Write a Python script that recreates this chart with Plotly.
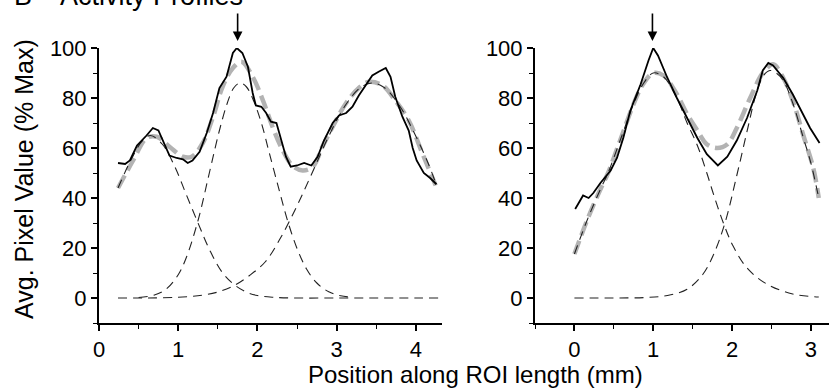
import plotly.graph_objects as go

# ---------------- Left panel ----------------
left_data_x = [0.24,0.33,0.39,0.48,0.60,0.68,0.75,0.81,0.89,0.98,1.06,1.12,1.18,1.27,1.36,1.44,1.52,1.61,1.69,1.74,
               1.81,1.88,1.94,1.98,2.05,2.11,2.17,2.24,2.30,2.36,2.42,2.50,2.59,2.68,2.76,2.84,2.95,3.03,3.12,3.20,
               3.28,3.37,3.45,3.53,3.62,3.68,3.74,3.83,3.91,3.96,4.01,4.10,4.18,4.26]
left_data_y = [54,53.6,55,61,65,68,67,63,57,56,55.5,54,55,58.5,66,74,84,88.5,98,100,
               98,92.5,82,77,76.5,74,70.5,70,63,56.5,52.5,53,54,53,56.5,63,70,73,74,76.5,
               81,85,89,90.5,92,88.5,80.5,72.5,67,60,55,50,48,45.5]

left_fit_x = [0.24,0.43,0.60,0.73,0.89,1.06,1.17,1.31,1.44,1.56,1.69,1.80,1.94,2.07,2.19,2.32,2.44,2.57,2.70,
              2.82,2.95,3.12,3.28,3.41,3.58,3.74,3.91,4.08,4.25]
left_fit_y = [44,55,64,64.5,60.5,56.5,56.5,62,72.5,84.5,92,94.5,88.5,79,68.5,59,53,51,52.5,
              60.5,68.5,78,84,86.5,85,79,71,58,45]

left_c1_x = [0.24,0.40,0.55,0.65,0.80,0.95,1.10,1.25,1.40,1.55,1.70,1.85,2.00,2.20,2.50,3.00,3.50,4.00,4.30]
left_c1_y = [44,55,63,65,61.5,53,41.5,30,19,10.5,5.5,2.5,1.0,0.3,0,0,0,0,0]

left_c2_x = [0.50,0.70,0.85,1.00,1.10,1.25,1.40,1.52,1.62,1.70,1.78,1.86,1.95,2.05,2.15,2.28,2.38,2.50,2.62,2.75,2.90,3.05,3.20]
left_c2_y = [0.2,1.2,3.6,9.3,16,31,51,67,78,84,86,84.5,79,70,58,42.5,31,19.8,11.6,6,2.5,0.9,0.3]

left_c3_x = [0.24,0.60,1.00,1.30,1.50,1.70,1.90,2.10,2.30,2.50,2.70,2.90,3.10,3.30,3.45,3.60,3.80,4.00,4.15,4.25]
left_c3_y = [0,0,0.3,1.1,2.4,4.9,9,14.5,24.5,36.9,50.7,64.7,76.6,84.2,86,84.2,76.6,64.7,54.3,46]

# ---------------- Right panel ----------------
right_data_x = [0.01,0.08,0.11,0.18,0.24,0.33,0.46,0.54,0.62,0.71,0.84,0.94,1.00,1.06,1.18,1.30,1.43,1.56,1.68,1.82,
                1.94,2.06,2.19,2.32,2.39,2.46,2.52,2.65,2.77,2.88,2.99,3.09,3.11]
right_data_y = [35.6,39,41,40,42,46,51,56,64,75,85.5,95,100,97,88,80,72,64,57.5,53,
                56.5,63,72,83,91,94,93,88,81.5,75,68,63,62]

right_fit_x = [0.0,0.16,0.33,0.42,0.58,0.75,0.87,1.00,1.13,1.30,1.43,1.56,1.68,1.81,1.94,2.06,2.23,2.39,2.52,
               2.65,2.77,2.90,3.03,3.10]
right_fit_y = [17.6,31,43.5,49.5,63,77.5,85.5,90,89,81.5,73.5,67,61.5,60,61.5,68,80,90,93.5,
               88,79,65.5,52,40]

right_c1_x = [0.0,0.16,0.33,0.42,0.58,0.75,0.87,1.00,1.13,1.30,1.43,1.56,1.68,1.78,1.89,2.01,2.19,2.44,2.77,3.10]
right_c1_y = [17.6,31,43.5,49.5,63,77.5,85.5,90,88.5,80,70,61,50,40,30,21,12,5.6,1.6,0.4]

right_c2_x = [0.0,0.50,0.90,1.18,1.43,1.63,1.76,1.91,2.06,2.20,2.30,2.40,2.48,2.56,2.65,2.77,2.90,3.00,3.10]
right_c2_y = [0,0,0.2,1,3.5,9.5,17,30,49,68,81,89,91,90,87,78,64.5,54,40]

# arrow positions (x of marked peak)
arrow_left_x = 1.75
arrow_right_x = 0.99

FONT = "Liberation Sans, Arial, sans-serif"
GRAY = "#b3b3b3"

fig = go.Figure()

def add_panel(xa, ya, fit_x, fit_y, comps, data_x, data_y):
    fig.add_trace(go.Scatter(x=fit_x, y=fit_y, mode="lines", xaxis=xa, yaxis=ya,
                             line=dict(color=GRAY, width=4.5, dash="14px,6px", shape="spline", smoothing=1.0),
                             showlegend=False, hoverinfo="skip"))
    for cx, cy in comps:
        fig.add_trace(go.Scatter(x=cx, y=cy, mode="lines", xaxis=xa, yaxis=ya,
                                 line=dict(color="#222222", width=1.1, dash="9px,6px", shape="spline", smoothing=1.0),
                                 showlegend=False, hoverinfo="skip"))
    fig.add_trace(go.Scatter(x=data_x, y=data_y, mode="lines", xaxis=xa, yaxis=ya,
                             line=dict(color="black", width=1.8),
                             showlegend=False, hoverinfo="skip"))

add_panel("x", "y", left_fit_x, left_fit_y,
          [(left_c1_x, left_c1_y), (left_c2_x, left_c2_y), (left_c3_x, left_c3_y)],
          left_data_x, left_data_y)
add_panel("x2", "y2", right_fit_x, right_fit_y,
          [(right_c1_x, right_c1_y), (right_c2_x, right_c2_y)],
          right_data_x, right_data_y)

# the page body margin is removed (post_script below), so the figure fills the window
W, H = 829, 389
ml, mr, mt, mb = 99, 0, 48, 66
pw, ph = W - ml - mr, H - mt - mb

def px_x(p):
    return (p - ml) / pw

def px_y(p):
    return (H - mb - p) / ph

axis_common = dict(showline=True, linecolor="black", linewidth=2, showgrid=False, zeroline=False,
                   ticks="outside", ticklen=6, tickwidth=1.6, tickcolor="black",
                   tickfont=dict(family=FONT, size=22, color="black"))

fig.update_layout(
    width=W, height=H,
    margin=dict(l=ml, r=mr, t=mt, b=mb, pad=0),
    paper_bgcolor="white", plot_bgcolor="white",
    xaxis=dict(domain=[0, px_x(442)], range=[0, 4.33], tickvals=[0, 1, 2, 3, 4],
               minor=dict(ticks="outside", dtick=0.5, tick0=0, ticklen=4, tickwidth=1.4, tickcolor="black"),
               anchor="y", **axis_common),
    yaxis=dict(domain=[0, 1], range=[-10, 100], tickvals=[0, 20, 40, 60, 80, 100],
               minor=dict(ticks="outside", dtick=10, tick0=0, ticklen=4, tickwidth=1.4, tickcolor="black"),
               anchor="x", **axis_common),
    xaxis2=dict(domain=[px_x(535), 1], range=[-0.5, 3.23], tickvals=[0, 1, 2, 3],
                minor=dict(ticks="outside", dtick=0.5, tick0=0, ticklen=4, tickwidth=1.4, tickcolor="black"),
                anchor="y2", **axis_common),
    yaxis2=dict(domain=[0, 1], range=[-10, 100], tickvals=[0, 20, 40, 60, 80, 100],
                minor=dict(ticks="outside", dtick=10, tick0=0, ticklen=4, tickwidth=1.4, tickcolor="black"),
                anchor="x2", **axis_common),
)

ann = []
ann.append(dict(text="Avg. Pixel Value (% Max)", xref="paper", yref="paper", x=px_x(24), y=px_y(179),
                xanchor="center", yanchor="middle", textangle=-90, showarrow=False,
                font=dict(family=FONT, size=25, color="black")))
ann.append(dict(text="Position along ROI length (mm)", xref="paper", yref="paper", x=px_x(475), y=px_y(374),
                xanchor="center", yanchor="middle", showarrow=False,
                font=dict(family=FONT, size=24, color="black")))
ann.append(dict(text="B", xref="paper", yref="paper", x=px_x(12), y=px_y(13), xanchor="left", yanchor="bottom",
                showarrow=False, font=dict(family=FONT, size=27, color="black")))
ann.append(dict(text="Activity Profiles", xref="paper", yref="paper", x=px_x(58), y=px_y(13), xanchor="left",
                yanchor="bottom", showarrow=False, font=dict(family=FONT, size=27, color="black")))
for ax_name, xv in (("x", arrow_left_x), ("x2", arrow_right_x)):
    ann.append(dict(text="", xref=ax_name, yref="paper", x=xv, y=px_y(41), showarrow=True,
                    arrowhead=2, arrowsize=1.2, arrowwidth=1.6, arrowcolor="black", ax=0, ay=-29))
fig.update_layout(annotations=ann)

fig.write_html("out.html",
               config={"displayModeBar": False},
               post_script="document.body.style.margin='0px';document.body.style.overflow='hidden';")
